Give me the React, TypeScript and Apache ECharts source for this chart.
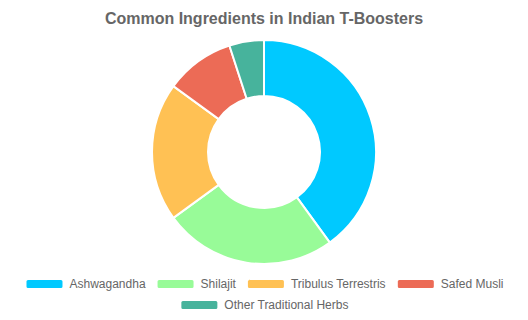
import React, { useEffect, useRef } from "react";
import * as echarts from "echarts";

const categories = ["Ashwagandha", "Shilajit", "Tribulus Terrestris", "Safed Musli", "Other Traditional Herbs"];
const values = [40, 25, 20, 10, 5];
const colors = ["#00C9FF", "#98FB98", "#FFC154", "#EC6B56", "#47B39C"];

const font = "Liberation Sans, Arial, sans-serif";

export default function App() {
  const ref = useRef<HTMLDivElement>(null);
  useEffect(() => {
    document.body.style.margin = "0";
    const chart = echarts.init(ref.current!, null, { renderer: "svg" });
    const legendCommon = {
      left: "center",
      itemWidth: 38,
      itemHeight: 10,
      itemGap: 10,
      textStyle: { fontFamily: font, fontSize: 12, color: "#666", padding: [0, 0, 0, 1] },
    };
    chart.setOption({
      animation: false,
      color: colors,
      title: {
        text: "Common Ingredients in Indian T-Boosters",
        left: "center",
        top: 5,
        textStyle: { fontFamily: font, fontSize: 16, fontWeight: "bold", color: "#666" },
      },
      legend: [
        { ...legendCommon, top: 273, data: categories.slice(0, 4) },
        { ...legendCommon, top: 294, data: categories.slice(4) },
      ],
      series: [
        {
          type: "pie",
          radius: ["35%", "70%"],
          center: ["50%", "47.5%"],
          label: { show: false },
          labelLine: { show: false },
          itemStyle: { borderColor: "#fff", borderWidth: 2 },
          data: categories.map((name, i) => ({ name, value: values[i] })),
        },
      ],
    });
    return () => chart.dispose();
  }, []);
  return <div ref={ref} style={{ width: 528, height: 320 }} />;
}
